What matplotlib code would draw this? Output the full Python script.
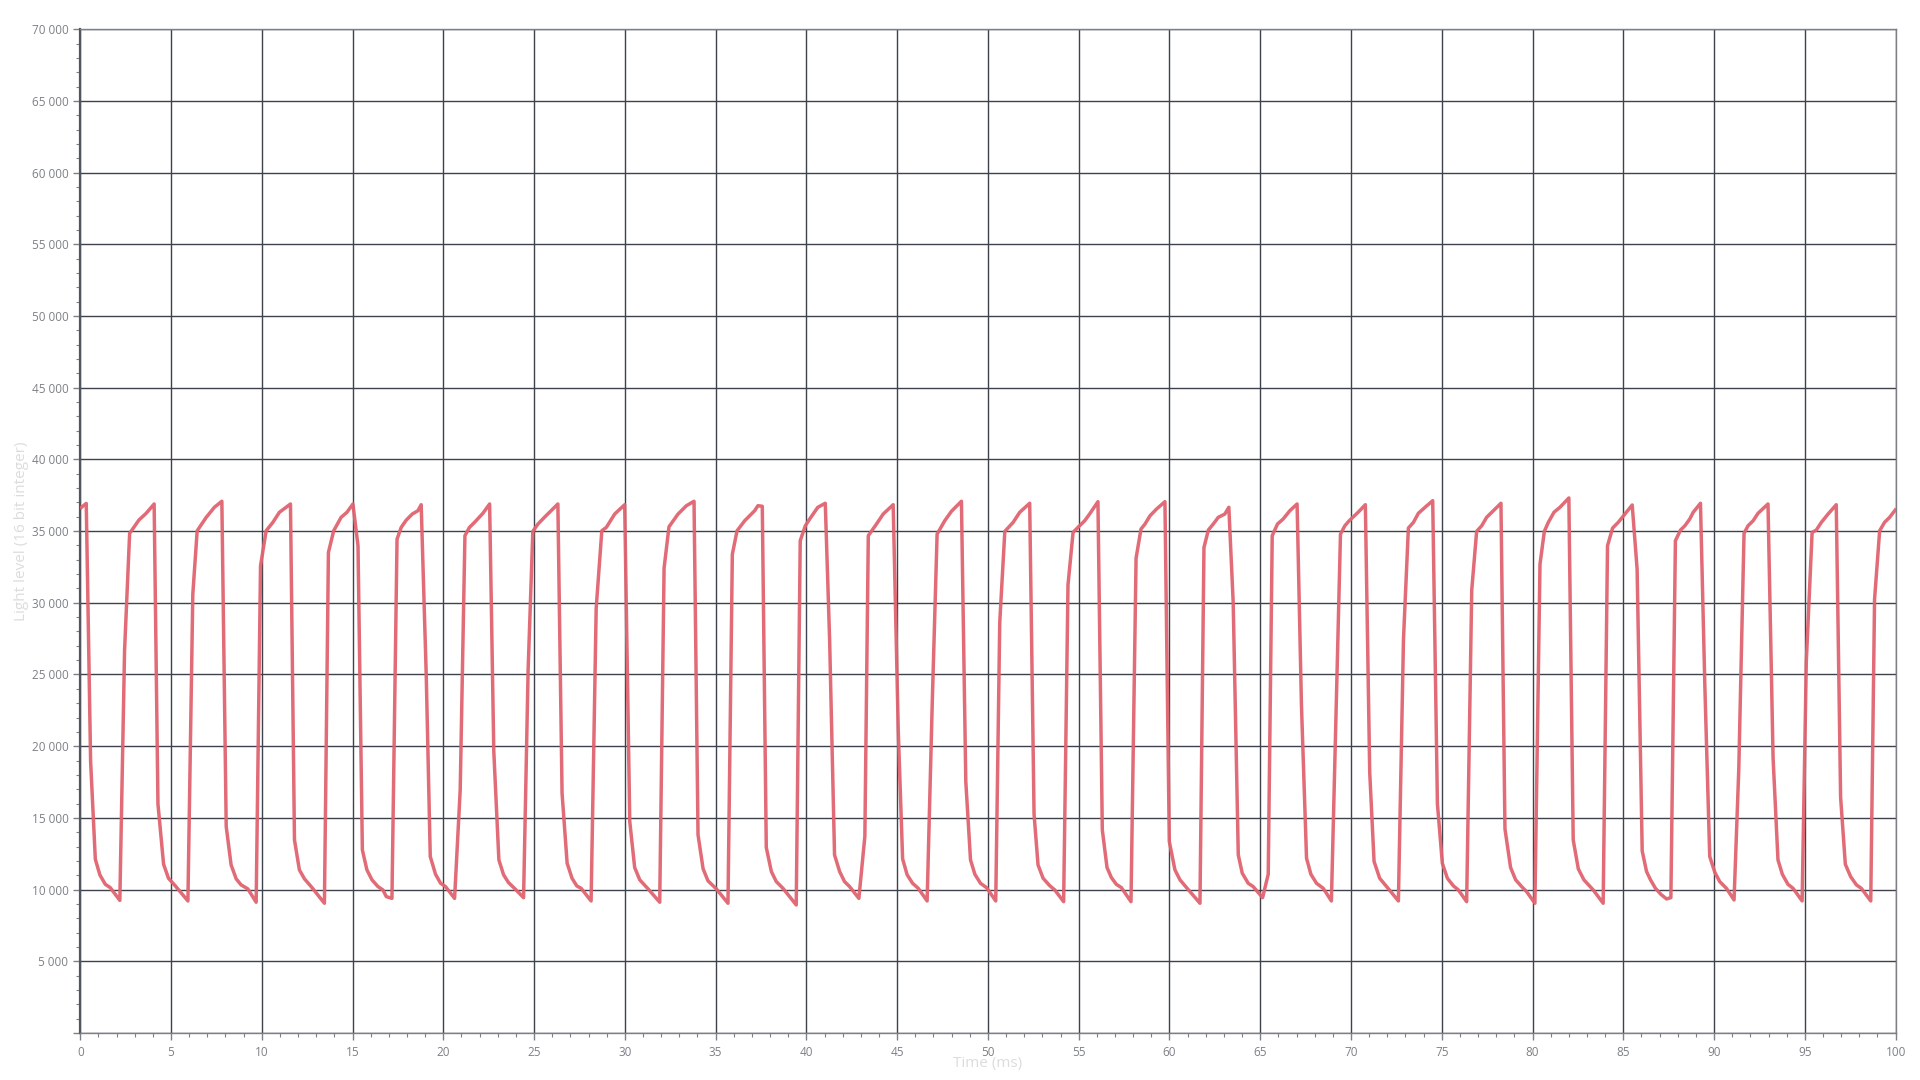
import matplotlib.pyplot as plt
from matplotlib.ticker import MultipleLocator, FuncFormatter

plt.rcParams['font.family'] = ['Open Sans', 'DejaVu Sans']

# light sensor readings (time in ms, 16 bit level)
time_ms = [
    0.06, 0.33, 0.57, 0.83, 1.08, 1.38, 1.65, 2.18,
    2.44, 2.72, 3.23, 3.63, 4.07, 4.28, 4.59, 4.86, 5.19, 5.93,
    6.20, 6.44, 6.94, 7.39, 7.80, 8.04, 8.31, 8.59, 8.86, 9.23, 9.69,
    9.93, 10.24, 10.61, 10.97, 11.58, 11.80, 12.07, 12.35, 12.72, 13.45,
    13.67, 13.96, 14.37, 14.69, 15.02, 15.30, 15.54, 15.79, 16.07, 16.40, 16.67, 16.86, 17.17,
    17.28, 17.45, 17.68, 17.96, 18.29, 18.60, 18.78, 19.06, 19.28, 19.57, 19.85, 20.12, 20.62,
    20.93, 21.19, 21.44, 21.72, 22.18, 22.55, 22.78, 23.06, 23.32, 23.59, 23.92, 24.42,
    24.67, 24.93, 25.21, 25.57, 25.94, 26.31, 26.54, 26.82, 27.09, 27.35, 27.59, 28.14,
    28.42, 28.73, 28.98, 29.44, 29.99, 30.27, 30.54, 30.82, 31.28, 31.92,
    32.16, 32.43, 32.93, 33.39, 33.81, 34.03, 34.31, 34.58, 35.04, 35.68,
    35.92, 36.18, 36.60, 37.15, 37.33, 37.57, 37.79, 38.07, 38.34, 38.71, 39.44,
    39.66, 39.94, 40.18, 40.63, 41.04, 41.28, 41.55, 41.83, 42.10, 42.38, 42.89,
    43.22, 43.41, 43.86, 44.23, 44.78, 45.06, 45.30, 45.55, 45.85, 46.16, 46.65,
    46.93, 47.20, 47.62, 47.99, 48.54, 48.78, 49.04, 49.28, 49.59, 49.92, 50.43,
    50.65, 50.93, 51.39, 51.75, 52.30, 52.54, 52.76, 53.04, 53.40, 53.68, 54.17,
    54.41, 54.69, 54.96, 55.33, 55.60, 56.06, 56.30, 56.56, 56.80, 57.07, 57.35, 57.88,
    58.16, 58.43, 58.65, 58.93, 59.29, 59.75, 59.99, 60.30, 60.58, 60.94, 61.68,
    61.90, 62.14, 62.41, 62.69, 63.05, 63.27, 63.51, 63.79, 64.01, 64.34, 64.61, 65.13,
    65.44, 65.66, 65.95, 66.26, 66.63, 67.03, 67.27, 67.55, 67.79, 68.10, 68.47, 68.92,
    69.14, 69.42, 69.66, 69.90, 70.39, 70.79, 71.03, 71.27, 71.58, 72.04, 72.61,
    72.89, 73.16, 73.44, 73.71, 74.08, 74.50, 74.76, 75.03, 75.31, 75.64, 75.91, 76.37,
    76.65, 76.92, 77.20, 77.47, 77.84, 78.26, 78.48, 78.79, 79.07, 79.40, 79.67, 80.13,
    80.41, 80.65, 80.87, 81.18, 81.51, 82.00, 82.24, 82.52, 82.83, 83.34, 83.89,
    84.13, 84.41, 84.72, 85.09, 85.49, 85.76, 86.04, 86.28, 86.50, 86.77, 87.07, 87.38, 87.62,
    87.87, 88.15, 88.39, 88.66, 88.85, 89.25, 89.49, 89.76, 90.04, 90.31, 90.68, 91.10,
    91.36, 91.65, 91.87, 92.15, 92.42, 92.97, 93.25, 93.52, 93.76, 94.07, 94.35, 94.85,
    95.08, 95.40, 95.63, 95.91, 96.28, 96.73, 96.97, 97.23, 97.52, 97.84, 98.11, 98.63,
    98.84, 99.12, 99.39, 99.67, 99.98,
]
light_level = [
    36650, 36930, 18950, 12120, 11030, 10370, 10140, 9250,
    26640, 34840, 35770, 36240, 36890, 15970, 11770, 10790, 10330, 9210,
    30600, 35020, 35960, 36660, 37080, 14400, 11720, 10750, 10330, 10050, 9120,
    32580, 35020, 35610, 36310, 36890, 13470, 11380, 10750, 10210, 9050,
    33510, 35020, 35960, 36310, 36890, 33980, 12770, 11380, 10680, 10210, 9980, 9510, 9390,
    19180, 34440, 35260, 35770, 36190, 36420, 36840, 24890, 12310, 11070, 10440, 10210, 9390,
    16970, 34680, 35260, 35610, 36240, 36890, 19650, 12070, 11030, 10490, 10090, 9440,
    25290, 34980, 35490, 35960, 36420, 36890, 16730, 11840, 10790, 10260, 10090, 9210,
    29620, 35020, 35260, 36190, 36840, 14750, 11540, 10680, 10050, 9120,
    32420, 35300, 36190, 36770, 37080, 13820, 11450, 10610, 10050, 9050,
    33390, 35020, 35720, 36420, 36770, 36730, 12940, 11260, 10560, 10090, 8930,
    34330, 35370, 35840, 36660, 36940, 27380, 12420, 11260, 10560, 10210, 9390,
    13710, 34680, 35490, 36190, 36840, 21090, 12140, 11030, 10440, 10090, 9210,
    22910, 34790, 35720, 36380, 37080, 17550, 12070, 11070, 10440, 10140, 9210,
    28620, 34980, 35610, 36310, 36940, 15270, 11720, 10790, 10280, 9980, 9160,
    31250, 34910, 35260, 35720, 36190, 37050, 14170, 11540, 10840, 10370, 10140, 9160,
    33110, 35140, 35490, 36070, 36540, 37050, 13360, 11380, 10680, 10140, 9050,
    33860, 35070, 35490, 35960, 36190, 36660, 30020, 12420, 11140, 10440, 10210, 9440,
    11070, 34680, 35490, 35840, 36420, 36890, 22860, 12190, 11070, 10440, 10090, 9210,
    20580, 34790, 35370, 35720, 36310, 36840, 18200, 11960, 10790, 10090, 9210,
    27450, 35210, 35610, 36240, 36660, 37120, 15970, 11840, 10790, 10260, 9980, 9160,
    30880, 34980, 35370, 35960, 36420, 36940, 14240, 11540, 10680, 10210, 9860, 9050,
    32690, 34980, 35610, 36310, 36660, 37310, 13470, 11450, 10680, 9980, 9050,
    33980, 35210, 35610, 36190, 36820, 32350, 12700, 11260, 10680, 10090, 9670, 9350, 9440,
    34330, 35070, 35370, 35840, 36310, 36940, 24260, 12310, 11210, 10560, 10090, 9280,
    18370, 34840, 35370, 35720, 36240, 36890, 19180, 12070, 11070, 10370, 10090, 9210,
    25890, 34910, 35070, 35610, 36190, 36840, 16430, 11770, 10910, 10330, 10090, 9210,
    30250, 35020, 35610, 35960, 36470,
]

line_color = '#e0636f'
grid_color = '#3d424c'
tick_color = '#7d8086'

fig = plt.figure(figsize=(19.2, 10.8), dpi=100)
ax = fig.add_axes([0.0418, 0.0435, 0.9455, 0.9295])

ax.plot(time_ms, light_level, color=line_color, linewidth=2.5, alpha=0.95,
        solid_joinstyle='round', zorder=3)

ax.set_xlim(0, 100)
ax.set_ylim(0, 70000)
ax.xaxis.set_major_locator(MultipleLocator(5))
ax.xaxis.set_minor_locator(MultipleLocator(1))
ax.yaxis.set_major_locator(MultipleLocator(5000))
ax.yaxis.set_minor_locator(MultipleLocator(1000))
ax.yaxis.set_major_formatter(FuncFormatter(
    lambda v, p: '' if v == 0 else f'{int(v):,}'.replace(',', ' ')))
ax.xaxis.set_major_formatter(FuncFormatter(lambda v, p: f'{int(v)}'))

ax.grid(True, which='major', color=grid_color, linewidth=1.0, zorder=1)
ax.tick_params(axis='both', which='major', colors=tick_color, labelsize=8.5,
               length=5, width=1)
ax.tick_params(axis='both', which='minor', colors=tick_color, length=3, width=0.8)
ax.tick_params(axis='x', pad=4)

for side in ['top', 'right', 'bottom']:
    ax.spines[side].set_color(tick_color)
    ax.spines[side].set_linewidth(1.0)
ax.spines['left'].set_color('#50555e')
ax.spines['left'].set_linewidth(1.6)

ax.set_xlabel('Time (ms)', color='#dcdcdc', fontsize=11, labelpad=-2)
ax.set_ylabel('Light level (16 bit integer)', color='#dcdcdc', fontsize=11, labelpad=2)

fig.savefig('out.png', dpi=100, facecolor='white')
